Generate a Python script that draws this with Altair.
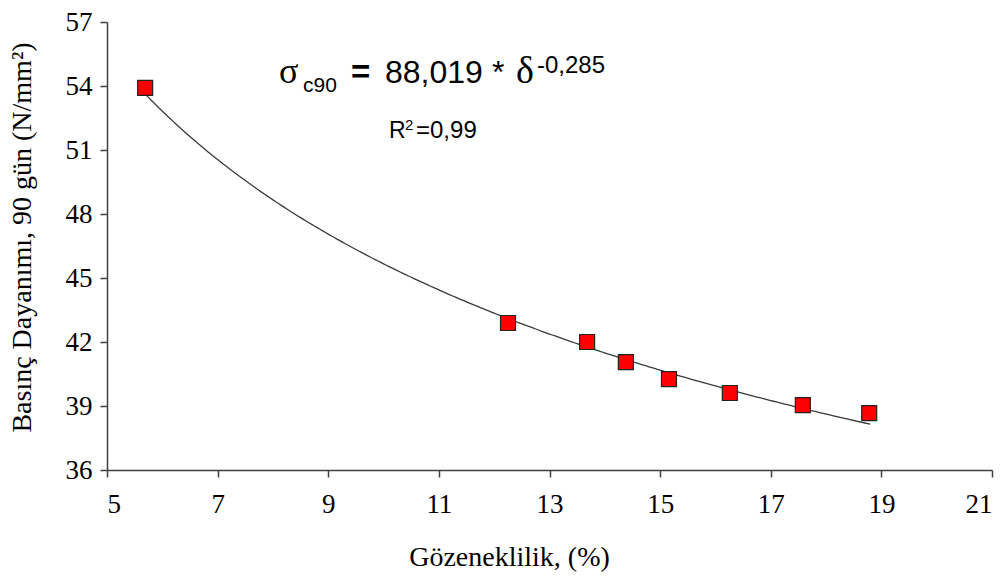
import altair as alt
import pandas as pd

# Measured porosity (%) and 90-day compressive strength (N/mm²)
porosity = [5.69, 12.25, 13.68, 14.38, 15.16, 16.26, 17.58, 18.78]
strength = [53.91, 42.89, 42.00, 41.06, 40.26, 39.61, 39.04, 38.67]

# Power-law fit reported on the chart: sigma = a * delta^b
fit_a = 88.019
fit_b = -0.285
fit_range = (5.7, 18.8)

x_ticks = [5, 7, 9, 11, 13, 15, 17, 19, 21]
y_ticks = [36, 39, 42, 45, 48, 51, 54, 57]

df = pd.DataFrame({"porosity": porosity, "strength": strength})

PAD_LEFT, PAD_TOP = 107, 22

x_scale = alt.Scale(domain=[5, 21], nice=False, zero=False)
y_scale = alt.Scale(domain=[36, 57], nice=False, zero=False)

axis_common = dict(
    grid=False,
    domainColor="#404040",
    domainWidth=1.5,
    tickColor="#404040",
    tickWidth=1.5,
    tickSize=7,
    labelFont="Liberation Serif",
    labelFontSize=27,
    labelColor="#000000",
    titleFont="Liberation Serif",
    titleFontWeight="normal",
    titleColor="#000000",
    titleFontSize=28,
)

x_enc = alt.X(
    "porosity:Q",
    scale=x_scale,
    axis=alt.Axis(
        values=x_ticks,
        title="Gözeneklilik, (%)",
        labelPadding=14,
        titleX=402,
        titleY=95,
        titleAlign="center",
        titleBaseline="alphabetic",
        **axis_common,
    ),
)
y_enc = alt.Y(
    "strength:Q",
    scale=y_scale,
    axis=alt.Axis(
        values=y_ticks,
        title="Basınç Dayanımı, 90 gün (N/mm²)",
        labelPadding=8,
        titleX=-85,
        titleY=215,
        titleAngle=270,
        titleAlign="center",
        titleBaseline="middle",
        **axis_common,
    ),
)

curve = (
    alt.Chart(alt.sequence(fit_range[0], fit_range[1] + 0.01, 0.05, as_="porosity"))
    .transform_calculate(strength=f"{fit_a} * pow(datum.porosity, {fit_b})")
    .mark_line(color="#3a3a3a", strokeWidth=1.3)
    .encode(x=x_enc, y=y_enc)
)

points = (
    alt.Chart(df)
    .mark_point(shape="square", filled=True, fill="#ff0000", stroke="#222222",
                strokeWidth=1.2, size=225, opacity=1)
    .encode(x=x_enc, y=y_enc)
)

# Equation annotation, assembled piece by piece: text, left, baseline, size, font, weight
eq_parts = [
    ("σ", 279, 83, 36, "Liberation Serif", "normal"),
    ("c90", 303, 92, 21, "Liberation Sans", "normal"),
    ("=", 351, 83, 33, "Liberation Sans", "bold"),
    ("88,019", 385, 83, 32, "Liberation Sans", "normal"),
    ("*", 492, 83, 32, "Liberation Sans", "normal"),
    ("δ", 516, 83, 38, "Liberation Serif", "normal"),
    ("-0,285", 537, 73, 24, "Liberation Sans", "normal"),
    ("R", 389, 138, 23, "Liberation Sans", "normal"),
    ("2", 405, 130, 15, "Liberation Sans", "normal"),
    ("=0,99", 416, 138, 24, "Liberation Sans", "normal"),
]

eq_layers = [
    alt.Chart(pd.DataFrame({"t": [txt]}))
    .mark_text(font=font, fontSize=fs, fontWeight=fw, align="left",
               baseline="alphabetic", color="#000000")
    .encode(text="t:N", x=alt.value(px - PAD_LEFT), y=alt.value(py - PAD_TOP))
    for txt, px, py, fs, font, fw in eq_parts
]

chart = (
    alt.layer(curve, points, *eq_layers)
    .properties(
        width=885,
        height=448,
        autosize=alt.AutoSizeParams(type="none"),
        padding={"left": PAD_LEFT, "top": PAD_TOP, "right": 16, "bottom": 109},
        background="#ffffff",
    )
    .configure_view(stroke=None)
)

chart.save("out.html", embed_options={"renderer": "svg", "actions": False})
